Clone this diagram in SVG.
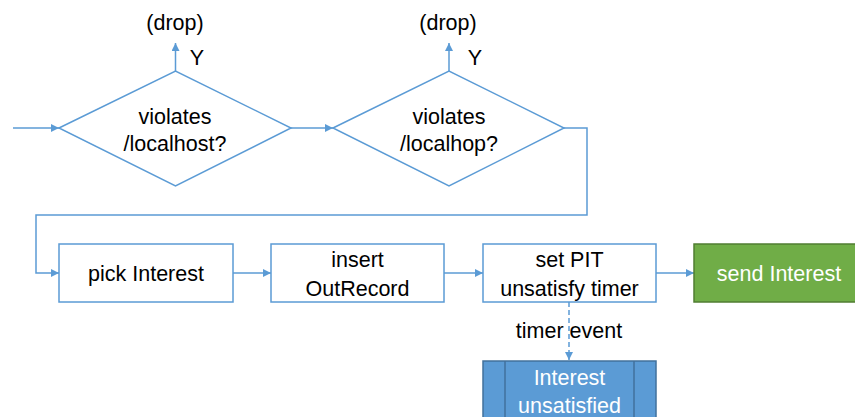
<svg xmlns="http://www.w3.org/2000/svg" width="855" height="417" viewBox="0 0 855 417">
<defs>
<marker id="ah" viewBox="0 0 10 10" refX="10" refY="5" markerWidth="8" markerHeight="8" markerUnits="userSpaceOnUse" orient="auto">
<path d="M0,0 L10,5 L0,10 z" fill="#5B9BD5"/>
</marker>
<style>
.ln{fill:none;stroke:#5B9BD5;stroke-width:1.5}
.box{fill:#fff;stroke:#5B9BD5;stroke-width:1.5}
.t{font-family:"Liberation Sans",Arial,sans-serif;font-size:21.5px;fill:#000;text-anchor:middle}
.w{fill:#fff}
</style>
</defs>
<rect width="855" height="417" fill="#fff"/>
<g id="connectors">
<path class="ln" d="M13,128 L59,128" marker-end="url(#ah)"/>
<path class="ln" d="M291,128 L333,128" marker-end="url(#ah)"/>
<path class="ln" d="M175.5,71 L175.5,43" marker-end="url(#ah)"/>
<path class="ln" d="M449,71 L449,43" marker-end="url(#ah)"/>
<path class="ln" d="M564,128 L587,128 L587,215 L36,215 L36,273 L59,273" marker-end="url(#ah)"/>
<path class="ln" d="M233,273 L271,273" marker-end="url(#ah)"/>
<path class="ln" d="M444,273 L483,273" marker-end="url(#ah)"/>
<path class="ln" d="M656,273 L694,273" marker-end="url(#ah)"/>
<path class="ln" d="M569,302 L569,360" stroke-dasharray="5,3" marker-end="url(#ah)"/>
<text class="t" x="569" y="338">timer event</text>
<text class="t" x="197" y="65">Y</text>
<text class="t" x="475" y="65">Y</text>
<text class="t" x="175" y="30">(drop)</text>
<text class="t" x="448" y="30">(drop)</text>
</g>
<g id="d1">
<polygon class="box" points="59,128 175.5,71 291,128 175.5,186"/>
<text class="t" x="175" y="124">violates</text>
<text class="t" x="175" y="151">/localhost?</text>
</g>
<g id="d2">
<polygon class="box" points="333,128 449,71 564,128 449,186"/>
<text class="t" x="449" y="124">violates</text>
<text class="t" x="449" y="151">/localhop?</text>
</g>
<g id="n1">
<rect class="box" x="59" y="244" width="174" height="58"/>
<text class="t" x="146" y="281">pick Interest</text>
</g>
<g id="n2">
<rect class="box" x="271" y="244" width="173" height="58"/>
<text class="t" x="357.5" y="267">insert</text>
<text class="t" x="357.5" y="296">OutRecord</text>
</g>
<g id="n3">
<rect class="box" x="483" y="244" width="173" height="58"/>
<text class="t" x="569.5" y="267">set PIT</text>
<text class="t" x="569.5" y="296">unsatisfy timer</text>
</g>
<g id="n4">
<rect x="694" y="244" width="170" height="58" fill="#70AD47" stroke="#507E32" stroke-width="1.5"/>
<text class="t w" x="779" y="281">send Interest</text>
</g>
<g id="n5">
<rect x="483" y="361" width="173" height="70" fill="#5B9BD5" stroke="#41719C" stroke-width="1.5"/>
<line x1="505" y1="361" x2="505" y2="420" stroke="#41719C" stroke-width="1.5"/>
<line x1="634" y1="361" x2="634" y2="420" stroke="#41719C" stroke-width="1.5"/>
<text class="t w" x="569.5" y="385">Interest</text>
<text class="t w" x="569.5" y="413">unsatisfied</text>
</g>
</svg>
